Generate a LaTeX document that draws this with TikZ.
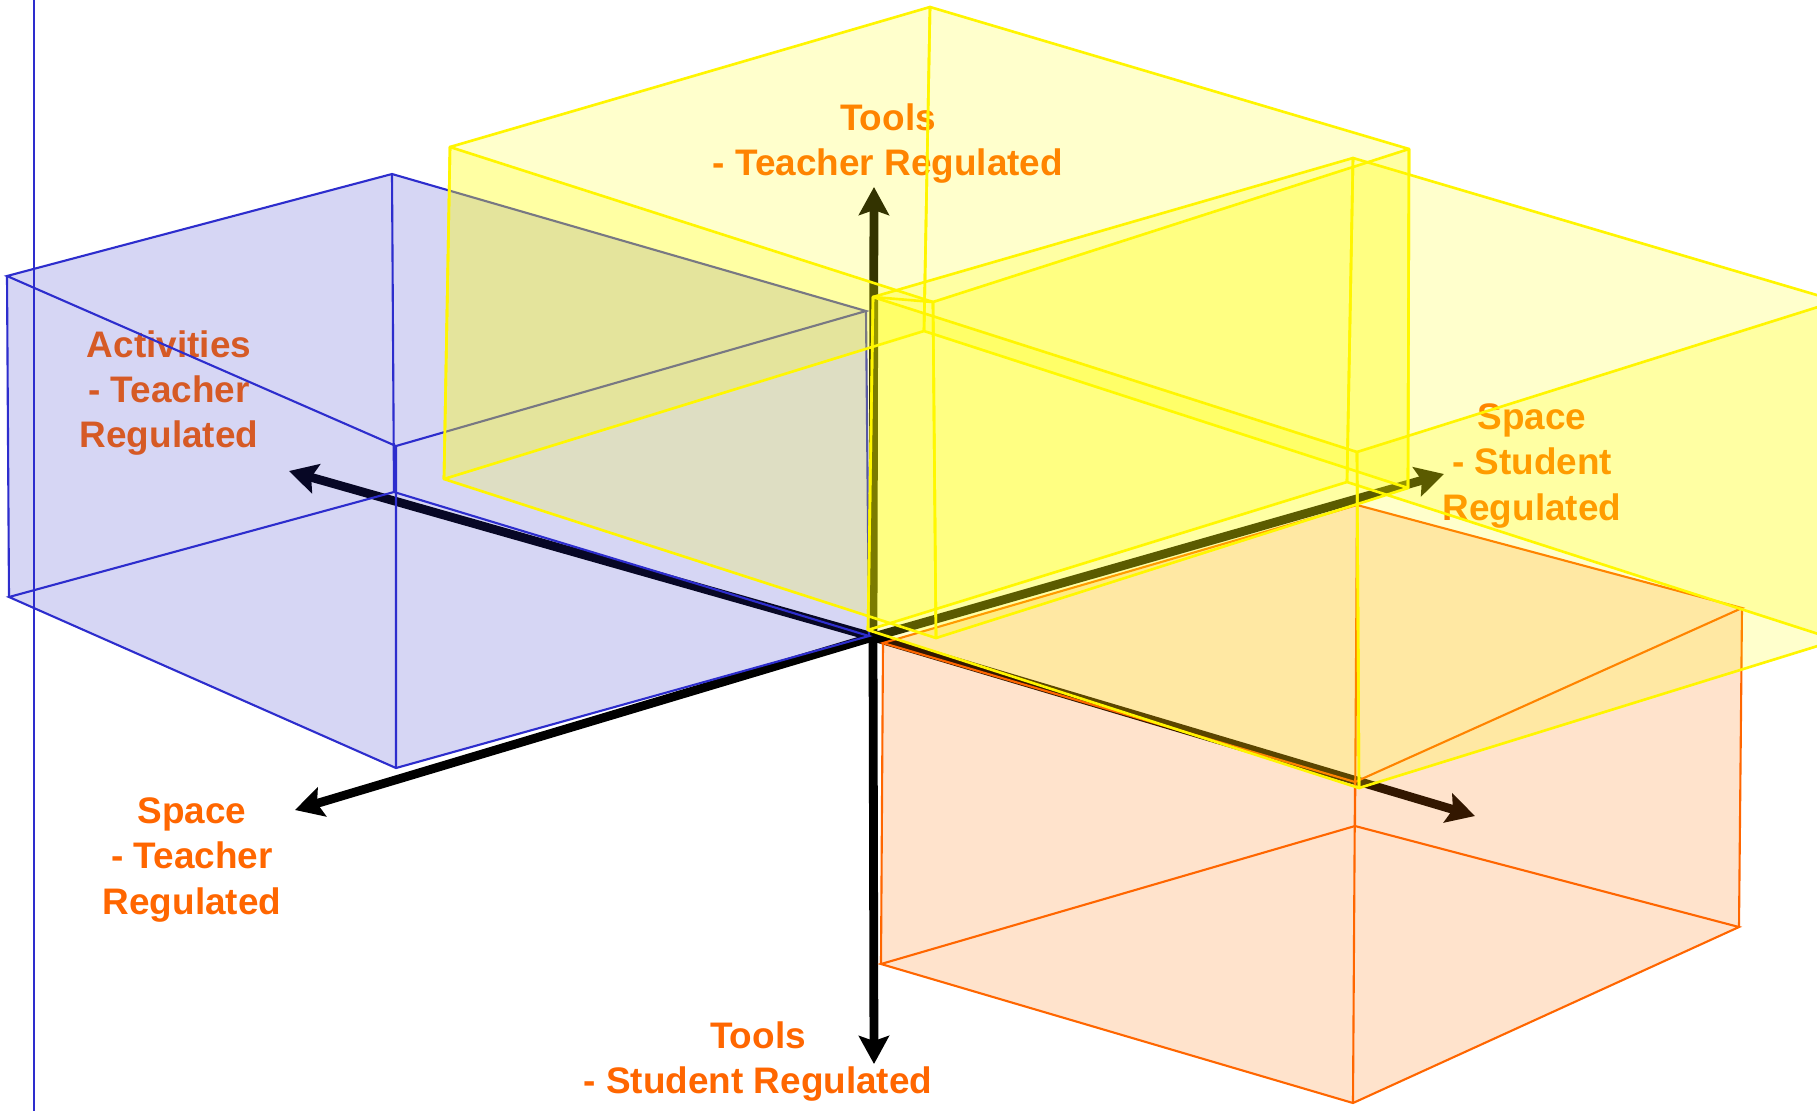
\documentclass[tikz,border=0pt]{standalone}
\usepackage{fontspec}
\setmainfont{Liberation Sans}
\usetikzlibrary{arrows.meta}
\definecolor{lblcol}{HTML}{FF6600}
\definecolor{bluefill}{RGB}{40,40,200}
\definecolor{blueedge}{RGB}{45,45,205}
\definecolor{orangefill}{RGB}{255,117,0}
\definecolor{orangeedge}{HTML}{FF6600}
\definecolor{yfill}{RGB}{255,255,0}
\definecolor{yedge}{RGB}{255,245,0}
\newcommand\yboxdraw[8]{%
  \filldraw[yface] (#1)--(#2)--(#6)--(#5)--cycle;
  \filldraw[yface] (#2)--(#3)--(#7)--(#6)--cycle;
  \filldraw[yface] (#1)--(#4)--(#8)--(#5)--cycle;
  \filldraw[yface] (#4)--(#3)--(#7)--(#8)--cycle;
}
\begin{document}
\begin{tikzpicture}[x=0.01cm,y=-0.01cm,
  lbl/.style={text=lblcol, font=\fontsize{10.5pt}{12.8pt}\selectfont\bfseries, align=center, inner sep=0pt},
  axis/.style={line width=2.5pt, black, -{Stealth[length=0.28cm,width=0.3cm,inset=0.05cm]}},
  bedge/.style={draw=blueedge, line width=0.6pt},
  oedge/.style={draw=orangeedge, line width=0.6pt},
  yface/.style={fill=yfill, fill opacity=0.2, draw=yedge, line width=0.75pt, line join=round}]
\useasboundingbox (0,0) rectangle (1817,1111);
\clip (0,0) rectangle (1817,1111);
\fill[white] (0,0) rectangle (1817,1111);

% ---------- coordinates ----------
\coordinate (O) at (873,637);
\coordinate (tU) at (874,187);
\coordinate (tD) at (874,1064);
\coordinate (tLU) at (289,471);
\coordinate (tLD) at (295,810);
\coordinate (tRU) at (1444,474);
\coordinate (tRD) at (1475,816);
% blue box
\coordinate (A) at (7,276);   \coordinate (B) at (392,174);
\coordinate (C) at (866,311); \coordinate (D) at (396,446);
\coordinate (E) at (9,597);   \coordinate (H) at (394,492);
\coordinate (G) at (869,636); \coordinate (F) at (396,768);
\coordinate (vT) at (34,0);   \coordinate (vB) at (34,1111);
% orange box
\coordinate (oTL) at (883,643);  \coordinate (oTB) at (1357,505);
\coordinate (oTR) at (1742,608); \coordinate (oTF) at (1355,782);
\coordinate (oBL) at (881,964);  \coordinate (oBB) at (1355,826);
\coordinate (oBR) at (1739,927); \coordinate (oBF) at (1353,1103);
% yellow box 1
\coordinate (aTL) at (450,147);  \coordinate (aTB) at (930,7);
\coordinate (aTR) at (1409,149); \coordinate (aTF) at (933,302);
\coordinate (aBL) at (444,479);  \coordinate (aBB) at (924,331);
\coordinate (aBR) at (1408,488); \coordinate (aBF) at (936,638);
% yellow box 2
\coordinate (bTL) at (873,297);  \coordinate (bTB) at (1353,158);
\coordinate (bTR) at (1837,301); \coordinate (bTF) at (1357,452);
\coordinate (bBL) at (868,630);  \coordinate (bBB) at (1347,482);
\coordinate (bBR) at (1837,640); \coordinate (bBF) at (1359,788);

% ---------- labels (under the translucent boxes) ----------
\node[lbl] (lToolsT) at (888,144) {Tools\\- Teacher Regulated};
\node[lbl] (lAct) at (169,393) {Activities\\- Teacher\\Regulated};
\node[lbl] (lSpaceS) at (1532,466) {Space\\- Student\\Regulated};
\node[lbl] (lSpaceT) at (192,860) {Space\\- Teacher\\Regulated};
\node[lbl] (lToolsS) at (758,1062) {Tools\\- Student Regulated};

% ---------- axes ----------
\draw[axis] (O) -- (tU);
\draw[axis] (O) -- (tD);
\draw[axis] (O) -- (tLU);
\draw[axis] (O) -- (tLD);
\draw[axis] (O) -- (tRU);
\draw[axis] (O) -- (tRD);

% ---------- blue box ----------
\fill[bluefill, fill opacity=0.19] (A)--(B)--(C)--(G)--(F)--(E)--cycle;
\draw[bedge] (A)--(B)--(C)--(D)--cycle;
\draw[bedge] (E)--(H)--(G)--(F)--cycle;
\draw[bedge] (A)--(E) (B)--(H) (C)--(G) (D)--(F);
\draw[bedge] (vT)--(vB);

% ---------- orange box ----------
\fill[orangefill, fill opacity=0.2] (oTL)--(oTB)--(oTR)--(oBR)--(oBF)--(oBL)--cycle;
\draw[oedge] (oTL)--(oTB)--(oTR)--(oTF)--cycle;
\draw[oedge] (oBL)--(oBB)--(oBR)--(oBF)--cycle;
\draw[oedge] (oTL)--(oBL) (oTB)--(oBB) (oTR)--(oBR) (oTF)--(oBF);

% ---------- yellow boxes ----------
\yboxdraw{aTL}{aTB}{aTR}{aTF}{aBL}{aBB}{aBR}{aBF}
\yboxdraw{bTL}{bTB}{bTR}{bTF}{bBL}{bBB}{bBR}{bBF}
\draw[draw=yedge, line width=0.75pt] (bTL)--(aTF);
\end{tikzpicture}
\end{document}
